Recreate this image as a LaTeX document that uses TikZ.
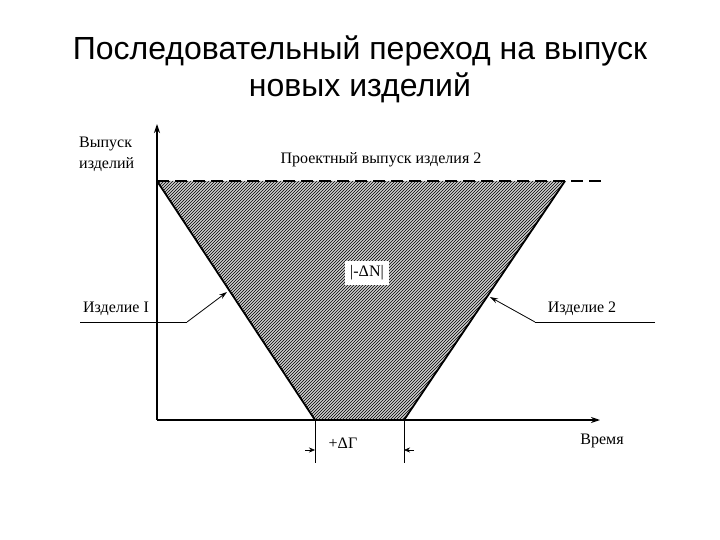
\documentclass[tikz,border=0pt]{standalone}
\usepackage{fontspec}
\setmainfont{Liberation Serif}
\newfontfamily\titlefont{Liberation Sans}
\usetikzlibrary{patterns,arrows.meta}
\begin{document}
\begin{tikzpicture}[x=1pt,y=-1pt,
  lbl/.style={font=\fontsize{16}{21}\selectfont, inner sep=1pt},
  axis/.style={line width=1.2pt, -{Stealth[length=9pt,width=6pt]}},
  ptr/.style={line width=0.8pt, -{Stealth[length=8pt,width=5pt]}},
  edge/.style={line width=1.8pt}]
\useasboundingbox (0,0) rectangle (720,540);
% title
\node[font=\titlefont\fontsize{32}{37}\selectfont, align=center] (title) at (360,69)
  {Последовательный переход на выпуск\\новых изделий};
% trapezoid
\coordinate (tl) at (157,181);
\coordinate (tr) at (565,181);
\coordinate (br) at (404,420);
\coordinate (bl) at (315,420);
\fill[black!20] (tl) -- (tr) -- (br) -- (bl) -- cycle;
\fill[pattern=north east lines, pattern color=black] (tl) -- (tr) -- (br) -- (bl) -- cycle;
\draw[edge] (tl) -- (bl);
\draw[edge] (tr) -- (br);
% dashed top line
\coordinate (dend) at (606,181);
\draw[line width=1.8pt, dash pattern=on 12pt off 6pt] (tl) -- (dend);
% axes
\coordinate (o) at (157,420);
\coordinate (ytip) at (157,124);
\coordinate (xtip) at (600,420);
\draw[axis] (o) -- (ytip);
\draw[axis] (o) -- (xtip);
% labels
\node[lbl, align=left, anchor=north west] (vy) at (78,136) {Выпуск\\изделий};
\node[lbl] (proj) at (381,160) {Проектный выпуск изделия 2};
\node[lbl, fill=white, inner sep=5pt] (dn) at (367,273) {|-ΔN|};
\node[lbl] (vr) at (602,441) {Время};
% product 1
\node[lbl] (p1) at (116,309) {Изделие I};
\coordinate (p1a) at (80,322);
\coordinate (p1b) at (187,322);
\coordinate (p1t) at (227,292);
\draw[line width=0.8pt] (p1a) -- (p1b);
\draw[ptr] (p1b) -- (p1t);
% product 2
\node[lbl] (p2) at (582,309) {Изделие 2};
\coordinate (p2a) at (655,322);
\coordinate (p2b) at (535,322);
\coordinate (p2t) at (490,297);
\draw[line width=0.8pt] (p2a) -- (p2b);
\draw[ptr] (p2b) -- (p2t);
% delta T
\coordinate (v1b) at (315,463);
\coordinate (v2b) at (404,463);
\draw[line width=0.8pt] (bl) -- (v1b);
\draw[line width=0.8pt] (br) -- (v2b);
\coordinate (a1s) at (305,450);
\coordinate (a1e) at (315,450);
\coordinate (a2s) at (414,450);
\coordinate (a2e) at (404,450);
\draw[-{Stealth[length=6pt,width=5pt]}] (a1s) -- (a1e);
\draw[-{Stealth[length=6pt,width=5pt]}] (a2s) -- (a2e);
\node[lbl] (dt) at (343,443) {+ΔГ};
\end{tikzpicture}
\end{document}
